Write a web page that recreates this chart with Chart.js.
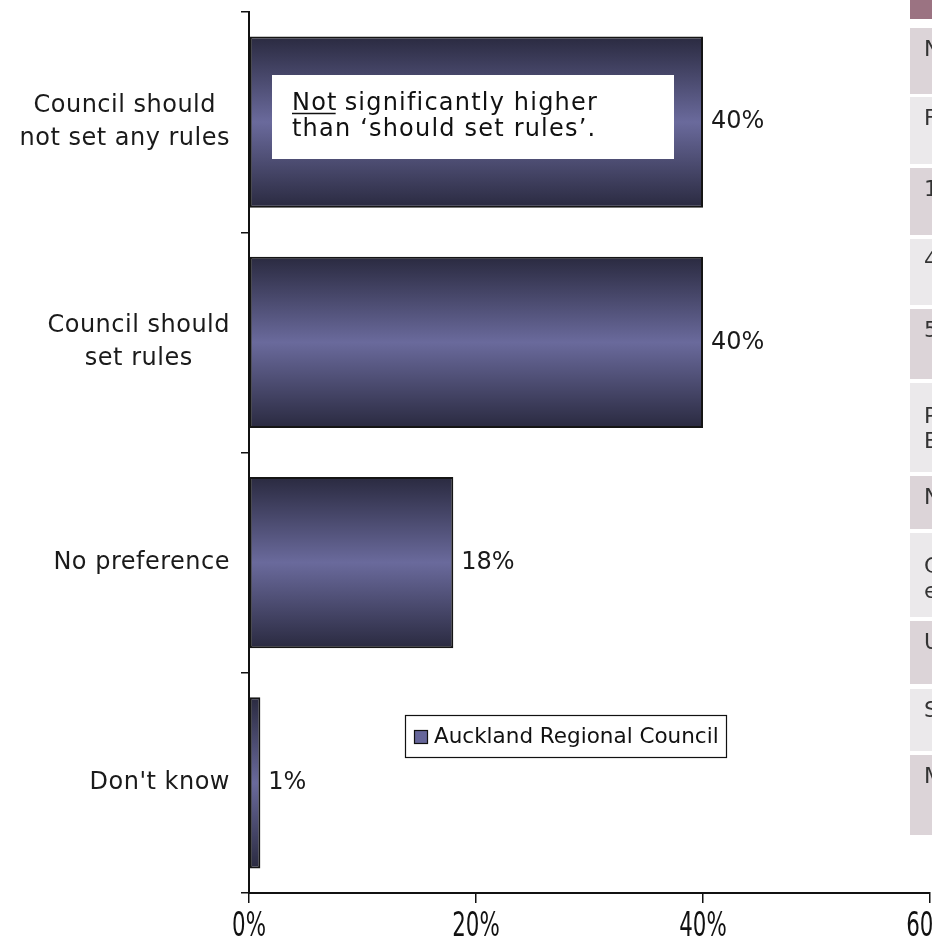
<!DOCTYPE html>
<html>
<head>
<meta charset="utf-8">
<script src="https://cdn.jsdelivr.net/npm/chart.js@4/dist/chart.umd.min.js"></script>
<style>
  body { margin: 0; background: #fff; }
  canvas { display: block; }
</style>
</head>
<body>
<canvas id="rulesChart" width="932" height="944"></canvas>
<script>
const categories = [['Council should', 'not set any rules'], ['Council should', 'set rules'], 'No preference', "Don't know"];
const shares = [40, 40, 18, 1];
const xTicks = [0, 20, 40, 60];
const seriesName = 'Auckland Regional Council';
const noteLines = ['significantly higher', 'than \u2018should set rules\u2019.'];
const noteLead = 'Not';
// first characters of the neighbouring table, cut off by the page edge
const sideRows = [['N'], ['F'], ['1'], ['4'], ['5'], ['P', 'B'], ['N'], ['C', 'e'], ['U'], ['S'], ['M']];

const BAR_PCT = 0.777;
const FONT = '"DejaVu Sans", Verdana, sans-serif';

function barFill(context) {
  const chart = context.chart;
  const area = chart.chartArea;
  if (!area || context.type !== 'data') return '#5a5a88';
  const yScale = chart.scales.y;
  const mid = yScale.getPixelForValue(context.dataIndex);
  const half = (area.bottom - area.top) / categories.length * BAR_PCT / 2;
  const g = chart.ctx.createLinearGradient(0, mid - half, 0, mid + half);
  g.addColorStop(0, '#2a2a40');
  g.addColorStop(0.5, '#6a6a9c');
  g.addColorStop(1, '#2a2a40');
  return g;
}

const decor = {
  id: 'decor',
  afterDatasetsDraw(chart) {
    const ctx = chart.ctx;
    const xScale = chart.scales.x;
    const yScale = chart.scales.y;
    const meta = chart.getDatasetMeta(0);
    ctx.save();

    // value labels next to each bar
    ctx.font = '24px ' + FONT;
    ctx.fillStyle = '#1a1a1a';
    ctx.textBaseline = 'middle';
    ctx.textAlign = 'left';
    meta.data.forEach((bar, i) => {
      ctx.fillText(shares[i] + '%', bar.x + 8, bar.y);
    });

    // category labels: right-aligned blocks, lines centred within the block
    ctx.letterSpacing = '0.5px';
    ctx.textAlign = 'center';
    const right = yScale.right - 19;
    const pitch = 33;
    categories.forEach((cat, i) => {
      const lines = Array.isArray(cat) ? cat : [cat];
      const w = Math.max(...lines.map(l => ctx.measureText(l).width));
      const cx = right - w / 2;
      const cy = yScale.getPixelForValue(i);
      lines.forEach((l, j) => {
        ctx.fillText(l, cx, cy + (j - (lines.length - 1) / 2) * pitch);
      });
    });

    // x tick labels in a narrow face
    ctx.letterSpacing = '0px';
    ctx.font = '33px "DejaVu Sans Condensed", "DejaVu Sans", sans-serif';
    ctx.fillStyle = '#111';
    xTicks.forEach(v => {
      ctx.save();
      ctx.translate(xScale.getPixelForValue(v), xScale.top + 34);
      ctx.scale(0.72, 1);
      ctx.fillText(v + '%', 0, 0);
      ctx.restore();
    });

    // note box over the first bar
    ctx.font = '24px ' + FONT;
    ctx.letterSpacing = '1.2px';
    ctx.fillStyle = '#fff';
    ctx.fillRect(272, 75, 402, 84);
    ctx.fillStyle = '#111';
    ctx.textAlign = 'left';
    ctx.textBaseline = 'alphabetic';
    const leadW = ctx.measureText(noteLead).width;
    ctx.fillText(noteLead, 292, 110);
    ctx.fillText(noteLines[0], 292 + leadW + 7, 110);
    ctx.fillText(noteLines[1], 292, 136);
    ctx.strokeStyle = '#111';
    ctx.lineWidth = 1.5;
    ctx.beginPath();
    ctx.moveTo(292, 113.5);
    ctx.lineTo(292 + leadW - 2, 113.5);
    ctx.stroke();

    // legend box
    ctx.letterSpacing = '0px';
    ctx.fillStyle = '#fff';
    ctx.fillRect(405, 715, 321, 42);
    ctx.lineWidth = 1.2;
    ctx.strokeRect(405.5, 715.5, 321, 42);
    ctx.fillStyle = '#66669a';
    ctx.fillRect(414, 730, 13, 13);
    ctx.strokeRect(414.5, 730.5, 13, 13);
    ctx.fillStyle = '#111';
    ctx.font = '21.5px ' + FONT;
    ctx.textBaseline = 'middle';
    ctx.fillText(seriesName, 434, 737);

    // table strip at the right edge
    ctx.fillStyle = '#9b7382';
    ctx.fillRect(910, 0, 30, 19);
    const tops = [28, 97, 168, 239, 309, 383, 476, 533, 621, 689, 755];
    const bottoms = [94, 164, 235, 305, 379, 472, 529, 617, 684, 751, 835];
    ctx.font = '22px ' + FONT;
    sideRows.forEach((row, i) => {
      ctx.fillStyle = i % 2 === 0 ? '#dcd4d8' : '#ebe9eb';
      ctx.fillRect(910, tops[i], 30, bottoms[i] - tops[i]);
      ctx.fillStyle = '#333';
      const first = tops[i] + (row.length > 1 ? 34 : 22);
      row.forEach((t, j) => ctx.fillText(t, 924, first + j * 25));
    });

    ctx.restore();
  }
};

new Chart(document.getElementById('rulesChart'), {
  type: 'bar',
  data: {
    labels: categories,
    datasets: [{
      label: seriesName,
      data: shares,
      backgroundColor: barFill,
      borderColor: '#151515',
      borderWidth: 2,
      borderSkipped: false,
      barPercentage: BAR_PCT,
      categoryPercentage: 1
    }]
  },
  options: {
    indexAxis: 'y',
    responsive: false,
    animation: false,
    layout: { padding: { top: 12, right: 2, left: 0, bottom: 0 }, autoPadding: false },
    plugins: { legend: { display: false }, tooltip: { enabled: false } },
    scales: {
      x: {
        min: xTicks[0],
        max: xTicks[xTicks.length - 1],
        afterBuildTicks: s => { s.ticks = xTicks.map(v => ({ value: v })); },
        ticks: { display: false },
        grid: { drawOnChartArea: false, tickLength: 10, color: '#111', lineWidth: 1.5 },
        border: { color: '#111', width: 2 },
        afterFit: s => {
          s.height = 51;
          s.paddingLeft = 0;
          s.paddingRight = 0;
        }
      },
      y: {
        ticks: { display: false },
        grid: { drawOnChartArea: false, tickLength: 8, color: '#111', lineWidth: 1.5, offset: true },
        border: { color: '#111', width: 2 },
        afterFit: s => { s.width = 249; }
      }
    }
  },
  plugins: [decor]
});
</script>
</body>
</html>
